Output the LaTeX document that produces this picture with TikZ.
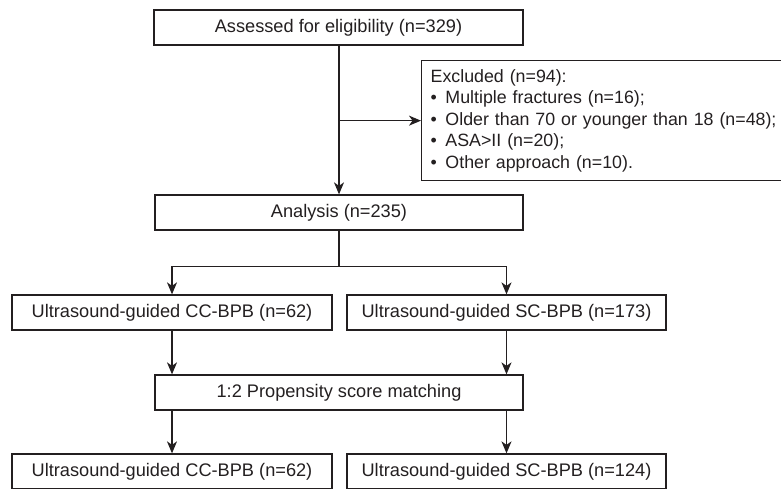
\documentclass[tikz,border=0pt]{standalone}
\usepackage{fontspec}
\setmainfont{Liberation Sans}
\usetikzlibrary{arrows.meta}
\definecolor{ink}{HTML}{231F20}
\newcommand{\bul}{•\hspace{8.6pt}}

\begin{document}
\begin{tikzpicture}[x=1pt,y=-1pt,
    box/.style={draw=ink,line width=1.3pt,minimum height=35pt,inner sep=0pt,
      text=ink,font=\fontsize{18.2}{21.6}\selectfont},
    link/.style={draw=ink,line width=1.3pt},
    arr/.style={link,-{Stealth[length=12pt,width=10pt,inset=3.5pt]}}]
  \useasboundingbox (0,0) rectangle (781,488);
  % screening
  \node[box,minimum width=369pt] (assess) at (338.5,27.5) {Assessed for eligibility (n=329)};
  \node[box,anchor=north west,minimum width=361pt,minimum height=120pt,
    align=left,text width=365pt,inner xsep=9pt,
    font=\fontsize{17.8}{21.6}\selectfont] (excl) at (421,60)
    {Excluded (n=94):\\
     \bul Multiple fractures (n=16);\\
     \bul Older than 70 or younger than 18 (n=48);\\
     \bul ASA>II (n=20);\\
     \bul Other approach (n=10).};
  \node[box,minimum width=368pt] (analysis) at (339,212.5) {Analysis (n=235)};
  \draw[arr] (assess.south -| analysis.north) -- (analysis.north);
  \draw[arr] (analysis.north |- excl.west) -- (excl.west);
  % groups
  \node[box,minimum width=320pt] (cc1) at (172,312.5) {Ultrasound-guided CC-BPB (n=62)};
  \node[box,minimum width=319pt] (sc1) at (506.5,312.5) {Ultrasound-guided SC-BPB (n=173)};
  \draw[link] (analysis.south) -- ++(0,36) coordinate (split);
  \draw[arr] (split) -| (cc1.north);
  \draw[arr] (split) -| (sc1.north);
  % matching
  \node[box,minimum width=368pt] (psm) at (339,392.5) {1:2 Propensity score matching};
  \draw[arr] (cc1.south) -- (cc1.south |- psm.north);
  \draw[arr] (sc1.south) -- (sc1.south |- psm.north);
  \node[box,minimum width=320pt] (cc2) at (172,471.5) {Ultrasound-guided CC-BPB (n=62)};
  \node[box,minimum width=319pt] (sc2) at (506.5,471.5) {Ultrasound-guided SC-BPB (n=124)};
  \draw[arr] (psm.south -| cc2.north) -- (cc2.north);
  \draw[arr] (psm.south -| sc2.north) -- (sc2.north);
\end{tikzpicture}
\end{document}
